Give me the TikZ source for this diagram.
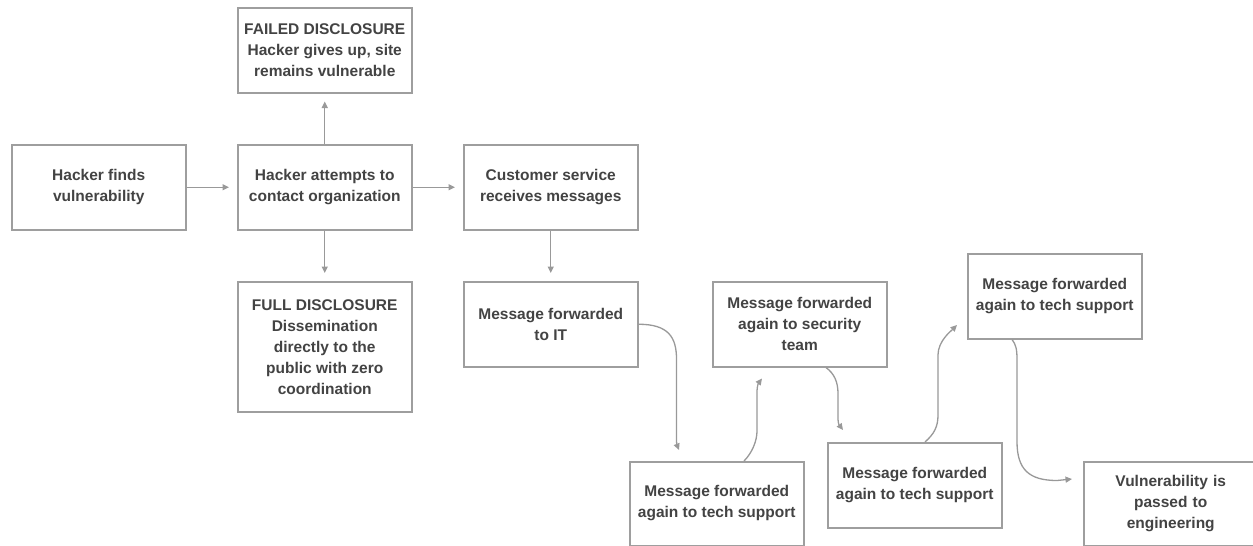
\documentclass[tikz,border=0pt]{standalone}
\usepackage{fontspec}
\setmainfont{Liberation Sans}
\usetikzlibrary{arrows.meta,calc}
\definecolor{boxc}{HTML}{9E9E9E}
\definecolor{linec}{HTML}{999999}
\definecolor{txt}{HTML}{434343}
\begin{document}
\begin{tikzpicture}[x=1pt,y=-1pt,
  box/.style={draw=boxc, line width=1.5pt, fill=white, minimum width=174pt,
    minimum height=85pt, inner sep=0pt, align=center, text=txt,
    font=\bfseries\fontsize{15.5}{21}\selectfont, anchor=north west},
  conn/.style={draw=linec, line width=1.3pt, -{Triangle[length=6.5pt,width=6pt]}},
  gap/.style={shorten >=8pt}]
\path[use as bounding box, fill=white] (0,0) rectangle (1253,546);

\node[box] (b1) at (11,144) {Hacker finds\\vulnerability};
\node[box] (b2) at (237,144) {Hacker attempts to\\contact organization};
\node[box] (fail) at (237,7) {FAILED DISCLOSURE\\Hacker gives up, site\\remains vulnerable};
\node[box, minimum height=130pt] (full) at (237,281) {FULL DISCLOSURE\\Dissemination\\directly to the\\public with zero\\coordination};
\node[box] (b3) at (463,144) {Customer service\\receives messages};
\node[box] (b4) at (463,281) {Message forwarded\\to IT};
\node[box, minimum height=83.5pt] (b5) at (629,461) {Message forwarded\\again to tech support};
\node[box] (b6) at (712,281) {Message forwarded\\again to security\\team};
\node[box] (b7) at (827,442) {Message forwarded\\again to tech support};
\node[box] (b8) at (967,253) {Message forwarded\\again to tech support};
\node[box, minimum width=184pt, minimum height=83.5pt, text width=164pt] (b9) at (1083,461) {\hspace*{-10pt}Vulnerability is\\\hspace*{-10pt}passed to\\\hspace*{-10pt}engineering};

\draw[conn, gap] (b1.east) -- (b2.west);
\draw[conn, gap] (b2.north) -- (fail.south);
\draw[conn, gap] (b2.south) -- (full.north);
\draw[conn, gap] (b2.east) -- (b3.west);
\draw[conn, gap] (b3.south) -- (b4.north);

\coordinate (t4) at ($(b5.north west)+(50,-11)$);
\coordinate (s5) at ($(b5.north west)+(115,0)$);
\coordinate (t5) at ($(b6.south west)+(50,11)$);
\coordinate (s6) at ($(b6.south west)+(114,0)$);
\coordinate (t6) at ($(b7.north west)+(16,-12)$);
\coordinate (s7) at ($(b7.north west)+(98,0)$);
\coordinate (t7) at ($(b8.north west)+(-10,72)$);
\coordinate (s8) at ($(b8.south west)+(45,0)$);
\coordinate (t8) at ($(b9.north west)+(-11,18)$);

\draw[conn] (b4.east) .. controls +(30,0) and +(0,-22) .. ++(38,35)
  -- ++(0,78) .. controls +(0,8) and +(-2,-5) .. (t4);
\draw[conn] (s5) .. controls +(8,-8) and +(0,10) .. ++(13,-30)
  -- ++(0,-38) .. controls +(0,-9) and +(-3,4) .. (t5);
\draw[conn] (s6) .. controls +(8,6) and +(0,-12) .. ++(12,26)
  -- ++(0,24) .. controls +(0,8) and +(-3,-4) .. (t6);
\draw[conn] (s7) .. controls +(9,-8) and +(0,12) .. ++(13,-27)
  -- ++(0,-60) .. controls +(0,-14) and +(-6,6) .. (t7);
\draw[conn] (s8) .. controls +(4,5) and +(0,-10) .. ++(5,20)
  -- ++(0,82) .. controls +(0,28) and +(-28,0) .. ++(40,39) -- (t8);
\end{tikzpicture}
\end{document}
